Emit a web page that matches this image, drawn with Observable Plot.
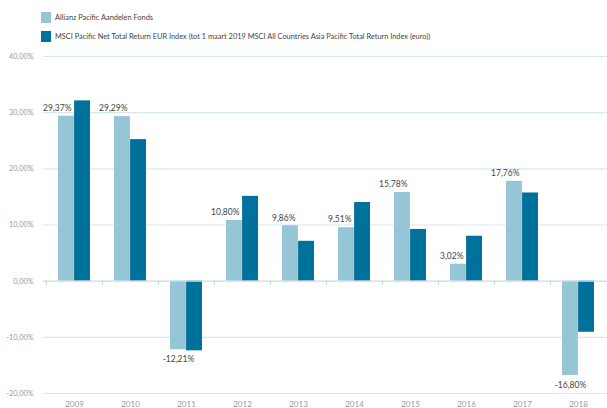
<!DOCTYPE html>
<html>
<head>
<meta charset="utf-8">
<script src="https://cdn.jsdelivr.net/npm/d3@7"></script>
<script src="https://cdn.jsdelivr.net/npm/@observablehq/plot@0.6"></script>
<style>
  html, body { margin: 0; padding: 0; background: #fff; }
  #wrap { position: relative; width: 607px; height: 408px; font-family: Lato, "Open Sans", sans-serif; }
  #legend { position: absolute; left: 41px; top: 12px; font-size: 7.4px; color: #444; }
  .item { display: flex; align-items: center; height: 11px; margin-bottom: 8px; }
  .sw { width: 10px; height: 11px; margin-right: 4px; }
</style>
</head>
<body>
<div id="wrap">
  <div id="chart"></div>
  <div id="legend"></div>
</div>
<script>
const years = ["2009","2010","2011","2012","2013","2014","2015","2016","2017","2018"];
const fundValues = [29.37, 29.29, -12.21, 10.80, 9.86, 9.51, 15.78, 3.02, 17.76, -16.80];
const indexValues = [32.1, 25.2, -12.4, 15.1, 7.1, 14.0, 9.2, 8.0, 15.7, -9.1];
const seriesNames = ["Allianz Pacific Aandelen Fonds",
  "MSCI Pacific Net Total Return EUR Index (tot 1 maart 2019 MSCI All Countries Asia Pacific Total Return Index (euro))"];
const yTicks = [-20, -10, 0, 10, 20, 30, 40];

const colors = ["#96c5d5", "#00719a"];
const W = 607, H = 408, mL = 45, mR = 0, mT = 56, mB = 15;
const step = (W - mL - mR) / years.length;
const outer = 12;

const fund = years.map((y, i) => ({year: y, value: fundValues[i]}));
const index = years.map((y, i) => ({year: y, value: indexValues[i]}));
const fmt = d => d.toFixed(2).replace(".", ",") + "%";

const plot = Plot.plot({
  width: W, height: H,
  marginLeft: mL, marginRight: mR, marginTop: mT, marginBottom: mB,
  style: {fontFamily: "Lato, 'Open Sans', sans-serif", background: "transparent"},
  x: {domain: years, padding: 0, label: null},
  y: {domain: [-20, 40], label: null},
  marks: [
    Plot.ruleY(yTicks.filter(d => d !== 0), {y: d => d, stroke: "#d6e8f0", strokeWidth: 1.2, insetLeft: -2}),
    Plot.barY(fund, {x: "year", y: "value", fill: colors[0], insetLeft: outer, insetRight: step / 2}),
    Plot.barY(index, {x: "year", y: "value", fill: colors[1], insetLeft: step / 2, insetRight: outer}),
    Plot.ruleY([0], {stroke: "#c4dce8", strokeWidth: 1.2, insetLeft: -2}),
    Plot.ruleX(years, {x: d => d, y1: 0, y2: 0, insetBottom: -4, dx: -step / 2, stroke: "#c4dce8", strokeWidth: 1.2}),
    Plot.text(fund.filter(d => d.value >= 0), {x: "year", y: "value", text: d => fmt(d.value),
      textAnchor: "end", dx: -3, dy: -8, fontSize: 8.5, fill: "#444"}),
    Plot.text(fund.filter(d => d.value < 0), {x: "year", y: "value", text: d => fmt(d.value),
      textAnchor: "middle", dx: -(step / 2 - outer) / 2, dy: 10, fontSize: 8.5, fill: "#444"}),
    Plot.axisY({ticks: yTicks, tickSize: 0, tickPadding: 12, tickFormat: fmt, fontSize: 7.3, fill: "#999"}),
    Plot.axisX({anchor: "bottom", tickSize: 0, tickPadding: 8, fontSize: 8, fill: "#999"})
  ]
});
document.getElementById("chart").appendChild(plot);

const legend = document.getElementById("legend");
seriesNames.forEach((name, i) => {
  const item = document.createElement("div");
  item.className = "item";
  const sw = document.createElement("span");
  sw.className = "sw";
  sw.style.background = colors[i];
  const label = document.createElement("span");
  label.textContent = name;
  item.appendChild(sw);
  item.appendChild(label);
  legend.appendChild(item);
});
</script>
</body>
</html>
